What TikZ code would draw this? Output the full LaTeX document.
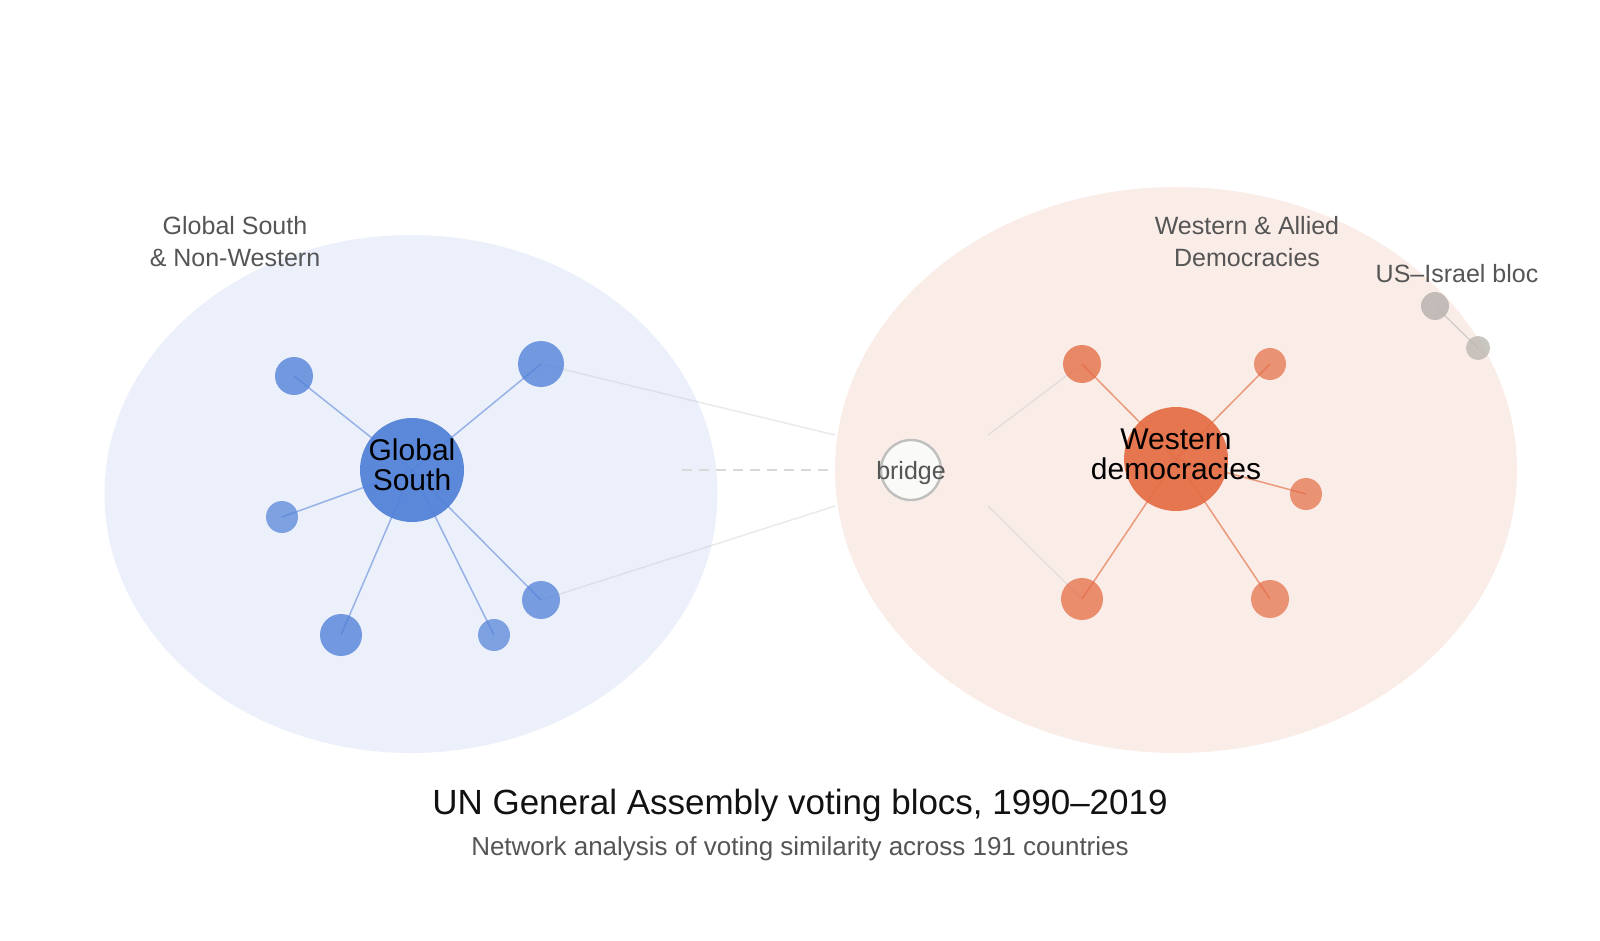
\documentclass[tikz,border=0pt]{standalone}
\usepackage{fontspec}
\setmainfont{Liberation Sans}

\definecolor{southblue}{RGB}{80,128,216}
\definecolor{southbg}{RGB}{236,240,250}
\definecolor{westred}{RGB}{228,108,67}
\definecolor{westbg}{RGB}{250,237,232}
\definecolor{blocgray}{RGB}{188,182,178}
\definecolor{labelgray}{RGB}{85,85,85}
\definecolor{faintgray}{RGB}{200,200,206}
\definecolor{bridgefill}{RGB}{250,250,248}

\pgfdeclarelayer{background}
\pgfdeclarelayer{links}
\pgfsetlayers{background,links,main}

\tikzset{
	hub/.style={circle, fill=#1, fill opacity=.92, minimum size=52pt, inner sep=0pt},
	sat/.style={circle, fill=#1, fill opacity=.78, inner sep=0pt},
	hubtext/.style={align=center, inner sep=0pt, font=\fontsize{15}{15}\selectfont},
	bloclabel/.style={align=center, inner sep=0pt, text=labelgray, font=\fontsize{12.5}{16}\selectfont},
	spoke/.style={draw=#1, line width=.75pt, opacity=.55},
	faint/.style={draw=faintgray, line width=.75pt, opacity=.38}
}

\begin{document}
\begin{tikzpicture}[x=0.5pt, y=-0.5pt]
\useasboundingbox (0,0) rectangle (1600,941);

% blocs
\begin{pgfonlayer}{background}
\fill[southbg] (411,494) ellipse [x radius=153.25pt, y radius=129.5pt];
\fill[westbg] (1176,470) ellipse [x radius=170.5pt, y radius=141.5pt];
\end{pgfonlayer}

% Global South
\node (gs) at (412,470) [hub=southblue] {};
	\node (gs1) at (294,376) [sat=southblue, minimum size=19pt] {};
	\node (gs2) at (541,364) [sat=southblue, minimum size=23pt] {};
	\node (gs3) at (282,517) [sat=southblue, minimum size=16pt, fill opacity=.7] {};
	\node (gs4) at (341,635) [sat=southblue, minimum size=21pt] {};
	\node (gs5) at (494,635) [sat=southblue, minimum size=16pt, fill opacity=.7] {};
	\node (gs6) at (541,600) [sat=southblue, minimum size=19pt, fill opacity=.74] {};
\node (gstext) at (412,465) [hubtext] {Global\\South};

% Western democracies
\node (ws) at (1176,459) [hub=westred] {};
	\node (ws1) at (1082,364) [sat=westred, minimum size=19pt] {};
	\node (ws2) at (1270,364) [sat=westred, minimum size=16pt, fill opacity=.7] {};
	\node (ws3) at (1306,494) [sat=westred, minimum size=16pt, fill opacity=.7] {};
	\node (ws4) at (1082,599) [sat=westred, minimum size=21pt, fill opacity=.74] {};
	\node (ws5) at (1270,599) [sat=westred, minimum size=19pt, fill opacity=.7] {};
\node (wstext) at (1176,454) [hubtext] {Western\\democracies};

% bridge and US--Israel
\node (bridge) at (911,470) [circle, fill=bridgefill, draw=black!25, line width=1.2pt, minimum size=30pt, inner sep=0pt] {};
\node (bridgetext) at (911,479) [anchor=base, inner sep=0pt, text=labelgray, font=\fontsize{12.5}{15}\selectfont] {bridge};
\node (is1) at (1435,306) [circle, fill=blocgray, fill opacity=.9, minimum size=14pt, inner sep=0pt] {};
\node (is2) at (1478,348) [circle, fill=blocgray, fill opacity=.8, minimum size=12pt, inner sep=0pt] {};

\coordinate (gapNW) at (835,435);
\coordinate (gapSW) at (835,506);
\coordinate (innerNW) at (988,435);
\coordinate (innerSW) at (988,506);
\coordinate (dashL) at (682,470);
\coordinate (dashR) at (835,470);

\begin{pgfonlayer}{links}
\foreach \s in {gs1,gs2,gs3,gs4,gs5,gs6}
	\draw[spoke=southblue] (gs.center) -- (\s.center);
\foreach \s in {ws1,ws2,ws3,ws4,ws5}
	\draw[spoke=westred, opacity=.65] (ws.center) -- (\s.center);
\draw[faint] (gs2.center) -- (gapNW);
\draw[faint] (gs6.center) -- (gapSW);
\draw[faint] (innerNW) -- (ws1.center);
\draw[faint] (innerSW) -- (ws4.center);
\draw[draw=black!15, line width=1pt, dash pattern=on 5pt off 3.5pt] (dashL) -- (dashR);
\draw[draw=black!20, line width=.6pt] (is1.center) -- (is2.center);
\end{pgfonlayer}

% labels
\node (southlabel) at (235,242) [bloclabel] {Global South\\\& Non-Western};
\node (westlabel) at (1247,242) [bloclabel] {Western \& Allied\\Democracies};
\node (islabel) at (1457,283) [anchor=base, inner sep=0pt, text=labelgray, font=\fontsize{12.5}{15}\selectfont] {US--Israel bloc};
\node (title) at (800,814) [anchor=base, inner sep=0pt, text=black!93, font=\fontsize{17.5}{20}\selectfont] {UN General Assembly voting blocs, 1990--2019};
\node (subtitle) at (800,855) [anchor=base, inner sep=0pt, text=labelgray, font=\fontsize{13}{15}\selectfont] {Network analysis of voting similarity across 191 countries};
\end{tikzpicture}
\end{document}
